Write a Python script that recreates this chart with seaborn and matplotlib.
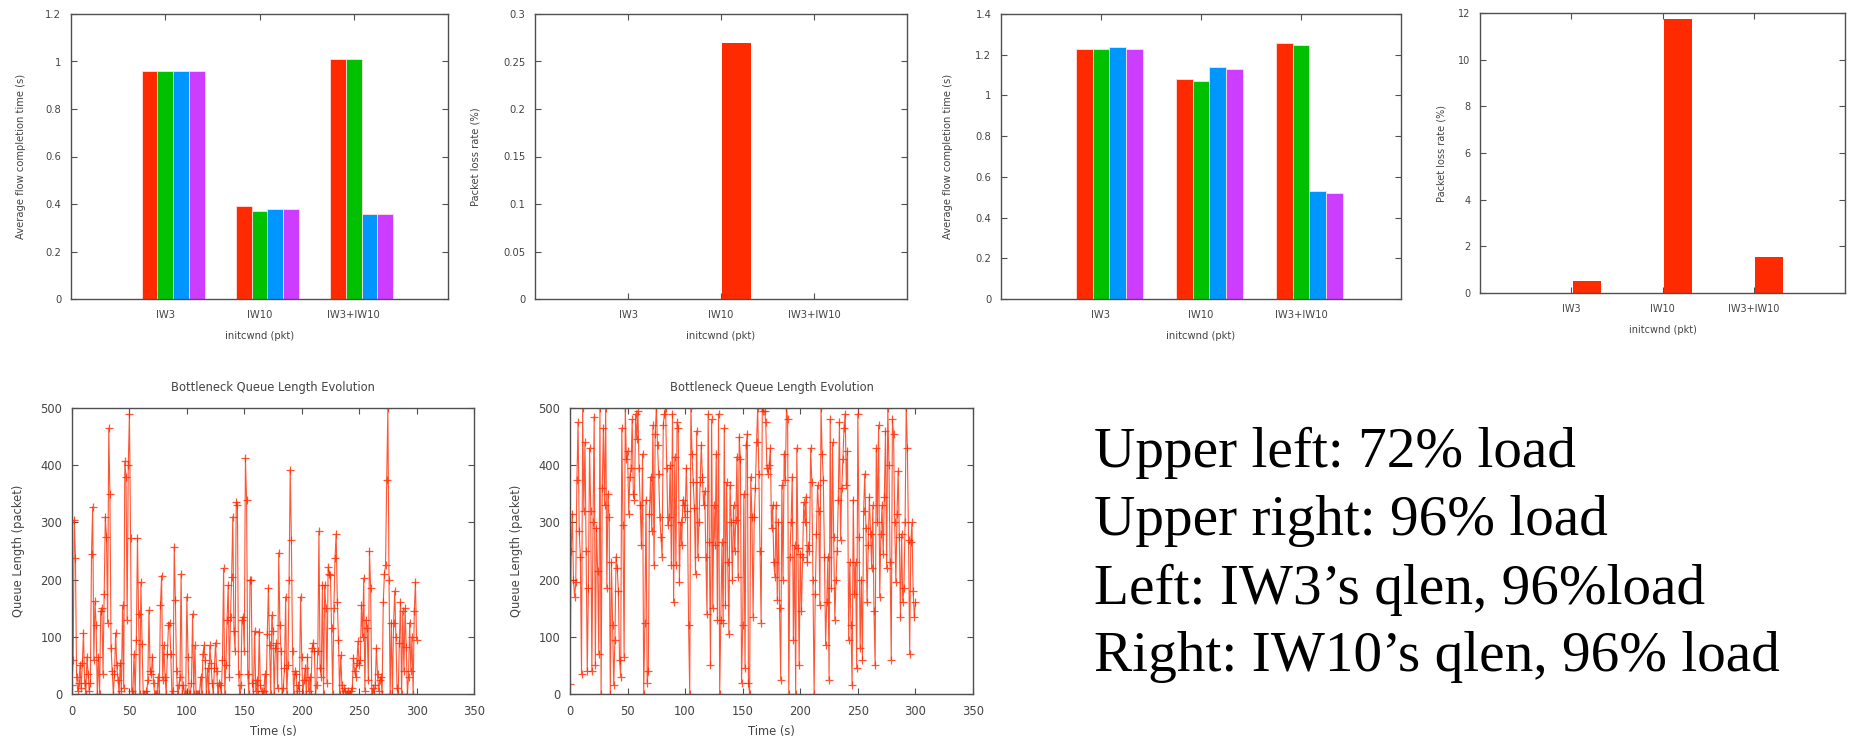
import numpy as np
import pandas as pd
import matplotlib
matplotlib.use("Agg")
import matplotlib.pyplot as plt
from matplotlib.ticker import FuncFormatter, MultipleLocator
import seaborn as sns

# ---------------- data ----------------
categories = ["IW3", "IW10", "IW3+IW10"]
series_names = ["s1", "s2", "s3", "s4"]
series_colors = ["#ff2a00", "#00c000", "#0096ff", "#cc3dff"]

# upper left: 72% load, average flow completion time (s)
fct72_s1 = [0.96, 0.39, 1.01]
fct72_s2 = [0.96, 0.37, 1.01]
fct72_s3 = [0.96, 0.38, 0.36]
fct72_s4 = [0.96, 0.38, 0.36]
loss72 = [0.0, 0.27, 0.0]

# upper right: 96% load
fct96_s1 = [1.23, 1.08, 1.26]
fct96_s2 = [1.23, 1.07, 1.25]
fct96_s3 = [1.24, 1.14, 0.53]
fct96_s4 = [1.23, 1.13, 0.52]
loss96 = [0.5, 11.73, 1.56]

# queue length evolution (one sample per second, 0..300 s)
qlen_iw3 = [
    15, 60, 305, 237, 30, 5, 20, 50, 10, 55,
    107, 20, 0, 65, 35, 5, 20, 245, 327, 60,
    162, 120, 0, 65, 0, 145, 150, 35, 175, 310,
    275, 125, 465, 350, 80, 40, 0, 35, 107, 50,
    25, 0, 55, 5, 155, 10, 407, 380, 130, 400,
    490, 272, 5, 0, 70, 0, 95, 273, 140, 0,
    195, 88, 0, 0, 5, 0, 25, 147, 40, 35,
    65, 20, 0, 0, 0, 30, 0, 155, 207, 25,
    85, 30, 0, 70, 120, 125, 70, 0, 5, 257,
    165, 40, 0, 15, 30, 210, 0, 15, 0, 0,
    170, 65, 0, 0, 20, 140, 0, 85, 0, 0,
    0, 0, 30, 0, 70, 85, 60, 0, 45, 0,
    85, 55, 20, 0, 45, 90, 40, 0, 20, 15,
    0, 60, 220, 0, 50, 130, 190, 30, 135, 205,
    310, 110, 75, 335, 330, 35, 0, 15, 130, 135,
    75, 412, 340, 35, 0, 200, 200, 20, 0, 110,
    5, 25, 0, 108, 15, 5, 0, 5, 35, 0,
    105, 185, 85, 0, 138, 110, 0, 80, 90, 10,
    247, 120, 75, 0, 10, 45, 170, 0, 50, 200,
    392, 270, 75, 0, 40, 35, 0, 15, 5, 170,
    65, 0, 25, 45, 0, 65, 5, 30, 0, 80,
    90, 75, 0, 15, 75, 285, 45, 30, 190, 0,
    190, 150, 20, 222, 210, 208, 115, 0, 150, 238,
    280, 160, 95, 0, 68, 15, 0, 10, 5, 0,
    5, 0, 0, 5, 10, 63, 40, 30, 55, 92,
    50, 60, 155, 100, 203, 5, 130, 115, 25, 250,
    185, 0, 10, 0, 15, 80, 35, 5, 25, 30,
    0, 160, 210, 225, 375, 500, 200, 0, 125, 0,
    125, 180, 100, 10, 0, 90, 160, 0, 145, 40,
    150, 82, 0, 30, 125, 40, 100, 0, 145, 195,
    95,
]
qlen_iw10 = [
    18, 250, 315, 200, 170, 195, 375, 475, 285, 240,
    35, 500, 320, 440, 250, 40, 185, 430, 320, 40,
    300, 485, 50, 290, 215, 70, 500, 0, 360, 465,
    330, 500, 185, 350, 310, 0, 230, 120, 15, 95,
    240, 220, 180, 60, 30, 465, 295, 65, 500, 410,
    425, 315, 380, 395, 480, 350, 340, 490, 445, 495,
    395, 330, 260, 420, 0, 125, 340, 20, 40, 315,
    380, 285, 470, 225, 455, 500, 435, 385, 310, 275,
    240, 470, 490, 500, 395, 295, 310, 400, 225, 490,
    160, 415, 225, 475, 465, 195, 300, 260, 340, 330,
    310, 395, 320, 120, 0, 500, 420, 370, 325, 210,
    460, 240, 300, 370, 435, 380, 330, 355, 240, 140,
    490, 265, 50, 480, 150, 330, 260, 420, 130, 490,
    0, 130, 265, 125, 465, 155, 370, 230, 105, 365,
    300, 200, 330, 250, 305, 415, 205, 450, 410, 20,
    120, 350, 45, 435, 455, 20, 0, 380, 310, 135,
    310, 360, 440, 500, 385, 250, 125, 500, 495, 495,
    475, 395, 385, 400, 430, 290, 330, 230, 205, 330,
    165, 300, 150, 25, 365, 200, 420, 375, 500, 480,
    0, 240, 300, 380, 95, 260, 0, 430, 255, 50,
    245, 145, 240, 335, 300, 345, 230, 260, 250, 430,
    370, 200, 0, 175, 280, 365, 320, 155, 500, 420,
    375, 240, 85, 160, 240, 25, 480, 185, 440, 275,
    130, 200, 250, 340, 475, 270, 360, 410, 465, 490,
    365, 425, 95, 230, 120, 15, 340, 175, 230, 45,
    490, 275, 80, 200, 60, 320, 385, 290, 160, 260,
    345, 280, 220, 330, 145, 50, 430, 300, 470, 170,
    280, 330, 245, 345, 460, 220, 500, 400, 230, 60,
    480, 455, 300, 195, 315, 390, 275, 135, 280, 160,
    185, 300, 500, 430, 270, 70, 265, 300, 180, 135,
    160,
]
time_s = list(range(0, 301))

notes = [
    "Upper left: 72% load",
    "Upper right: 96% load",
    "Left: IW3\u2019s qlen, 96%load",
    "Right: IW10\u2019s qlen, 96% load",
]

# ---------------- style ----------------
sns.set_theme(style="ticks")
plt.rcParams.update({
    "font.family": ["DejaVu Sans"],
    "xtick.direction": "in",
    "ytick.direction": "in",
    "xtick.top": True,
    "ytick.right": True,
    "axes.edgecolor": "#505050",
    "axes.linewidth": 1.0,
    "xtick.color": "#505050",
    "ytick.color": "#505050",
    "xtick.labelcolor": "#444444",
    "ytick.labelcolor": "#444444",
    "axes.labelcolor": "#444444",
    "xtick.major.size": 4,
    "ytick.major.size": 4,
    "xtick.major.width": 0.8,
    "ytick.major.width": 0.8,
})

GRAY = "#444444"
fig = plt.figure(figsize=(18.5, 7.38), dpi=100)


def gfmt(v, pos):
    return "{:g}".format(round(v, 6))


def style_axes(ax, fs_tick, xpad, ypad):
    ax.tick_params(axis="x", labelsize=fs_tick, pad=xpad)
    ax.tick_params(axis="y", labelsize=fs_tick, pad=ypad)
    ax.yaxis.set_major_formatter(FuncFormatter(gfmt))
    for s in ax.spines.values():
        s.set_visible(True)


def grouped_bars(rect, vals, ymax, ystep, ylabel, ylabelpad, fs_tick=7.2, fs_label=7.2):
    ax = fig.add_axes(rect)
    df = pd.DataFrame({
        "initcwnd": categories * 4,
        "series": [n for n in series_names for _ in categories],
        "value": [v for s in vals for v in s],
    })
    sns.barplot(data=df, x="initcwnd", y="value", hue="series", order=categories,
                hue_order=series_names, palette=series_colors, width=4 / 6,
                edgecolor="#ffe0e0", linewidth=0.6, saturation=1, legend=False, ax=ax,
                errorbar=None)
    off = 1 / 12
    ax.set_xlim(-1 - off, 3 - off)
    ax.set_xticks([i - off for i in range(3)])
    ax.set_xticklabels(categories)
    ax.set_ylim(0, ymax)
    ax.yaxis.set_major_locator(MultipleLocator(ystep))
    style_axes(ax, fs_tick, 8, 7)
    ax.set_xlabel("initcwnd (pkt)", fontsize=fs_label, color=GRAY, labelpad=8)
    ax.set_ylabel(ylabel, fontsize=fs_label, color=GRAY, labelpad=ylabelpad)
    return ax


def single_bars(rect, vals, ymax, ystep, ylabelpad, fs_tick=7.2, fs_label=7.2):
    ax = fig.add_axes(rect)
    df = pd.DataFrame({"initcwnd": categories, "value": vals})
    sns.barplot(data=df, x="initcwnd", y="value", order=categories, color=series_colors[0],
                width=0.31, saturation=1, linewidth=0, ax=ax, errorbar=None)
    off = 0.17
    ax.set_xlim(-1 - off, 3 - off)
    ax.set_xticks([i - off for i in range(3)])
    ax.set_xticklabels(categories)
    ax.set_ylim(0, ymax)
    ax.yaxis.set_major_locator(MultipleLocator(ystep))
    style_axes(ax, fs_tick, 8, 7)
    ax.set_xlabel("initcwnd (pkt)", fontsize=fs_label, color=GRAY, labelpad=8)
    ax.set_ylabel("Packet loss rate (%)", fontsize=fs_label, color=GRAY, labelpad=ylabelpad)
    return ax


W, H = 1850.0, 738.0


def rect(x0, y0, x1, y1):
    return [x0 / W, 1 - y1 / H, (x1 - x0) / W, (y1 - y0) / H]


grouped_bars(rect(71, 14, 448, 299), [fct72_s1, fct72_s2, fct72_s3, fct72_s4], 1.2, 0.2,
             "Average flow completion time (s)", 14)
single_bars(rect(535, 14, 907, 299), loss72, 0.3, 0.05, 16)
grouped_bars(rect(1001, 14, 1401, 299), [fct96_s1, fct96_s2, fct96_s3, fct96_s4], 1.4, 0.2,
             "Average flow completion time (s)", 16)
single_bars(rect(1480, 13, 1845, 293), loss96, 12, 2, 8, fs_tick=7.0, fs_label=7.0)


def queue_plot(r, q):
    ax = fig.add_axes(r)
    df = pd.DataFrame({"t": time_s, "q": q})
    sns.lineplot(data=df, x="t", y="q", estimator=None, color="#ff2a00", lw=0.8, alpha=0.8,
                 marker="+", markersize=5.5, markeredgewidth=0.9, markeredgecolor="#ff2a00",
                 ax=ax)
    ax.set_xlim(0, 350)
    ax.set_ylim(0, 500)
    ax.xaxis.set_major_locator(MultipleLocator(50))
    ax.yaxis.set_major_locator(MultipleLocator(100))
    style_axes(ax, 8.3, 8, 7)
    ax.set_xlabel("Time (s)", fontsize=8.3, color=GRAY, labelpad=5)
    ax.set_ylabel("Queue Length (packet)", fontsize=8.3, color=GRAY, labelpad=11)
    ax.set_title("Bottleneck Queue Length Evolution", fontsize=8.3, color=GRAY, pad=12)
    return ax


queue_plot(rect(72, 408, 474, 694), qlen_iw3)
queue_plot(rect(570, 408, 973, 694), qlen_iw10)

baselines = [467, 535, 604, 671]
for txt, yb in zip(notes, baselines):
    fig.text(1094 / W, 1 - yb / H, txt, fontsize=41.2,
             family=["Liberation Serif", "DejaVu Serif"],
             color="black", ha="left", va="baseline")

fig.savefig("out.png", dpi=100)
